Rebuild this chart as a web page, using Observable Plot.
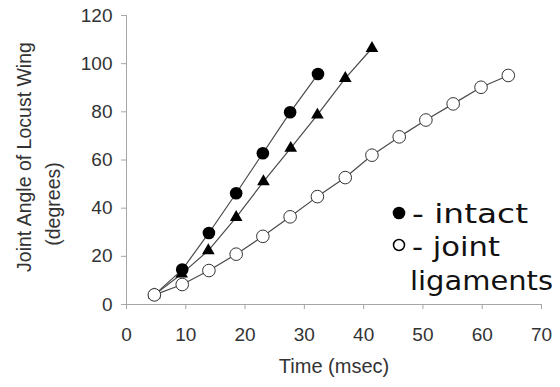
<!DOCTYPE html>
<html><head><meta charset="utf-8">
<script src="https://cdn.jsdelivr.net/npm/d3@7"></script>
<script src="https://cdn.jsdelivr.net/npm/@observablehq/plot@0.6"></script>
<style>
body{margin:0;background:#fff;}
#wrap{position:relative;width:560px;height:387px;overflow:hidden;}
#legend{position:absolute;left:0;top:0;pointer-events:none;}
</style></head><body><div id="wrap"></div>
<script>
// Data
const intactTime  = [4.7, 9.4, 13.9, 18.5, 23.0, 27.6, 32.3];
const intactAngle = [4.0, 14.5, 29.7, 46.2, 62.8, 79.8, 95.7];

const triTime  = [4.7, 9.3, 13.8, 18.5, 23.1, 27.7, 32.2, 36.9, 41.4];
const triAngle = [4.0, 12.7, 22.4, 36.2, 51.0, 64.9, 78.7, 93.9, 106.4];

const ligTime  = [4.7, 9.4, 13.9, 18.5, 23.0, 27.6, 32.2, 36.9, 41.4, 46.0, 50.5, 55.1, 59.8, 64.4];
const ligAngle = [4.0, 8.3, 14.1, 20.9, 28.3, 36.4, 44.8, 52.7, 62.0, 69.6, 76.6, 83.3, 90.2, 95.1];

const xTicks = [0, 10, 20, 30, 40, 50, 60, 70];
const yTicks = [0, 20, 40, 60, 80, 100, 120];

const xTitle = "Time (msec)";
const yTitle1 = "Joint Angle of Locust Wing";
const yTitle2 = "(degrees)";
const legendLabels = ["- intact", "- joint", "ligaments"];

const toRows = (xs, ys) => xs.map((t, i) => ({t, a: ys[i]}));
const intact = toRows(intactTime, intactAngle);
const tri = toRows(triTime, triAngle);
const lig = toRows(ligTime, ligAngle);

const lineColor = "#4a4a4a";
const axisGray = "#a6a6a6";
const textColor = "#333";

const chart = Plot.plot({
  width: 560,
  height: 387,
  marginLeft: 126,
  marginRight: 19,
  marginTop: 15,
  marginBottom: 83,
  style: {fontFamily: "'Liberation Sans', Arial, sans-serif", fontSize: "19px", color: textColor, background: "#fff"},
  x: {domain: [0, 70]},
  y: {domain: [0, 120]},
  marks: [
    Plot.ruleX([0], {stroke: axisGray, strokeWidth: 1}),
    Plot.ruleY([0], {stroke: axisGray, strokeWidth: 1}),
    Plot.axisX({ticks: xTicks, tickSize: 5, tickPadding: 18, label: null, stroke: axisGray, fill: textColor}),
    Plot.axisY({ticks: yTicks, tickSize: 5, tickPadding: 9, label: null, stroke: axisGray, fill: textColor}),
    Plot.text([xTitle], {frameAnchor: "bottom", dy: 68, fontSize: 20, fill: textColor}),
    Plot.text([yTitle1], {frameAnchor: "left", textAnchor: "middle", dx: -102, dy: -3, rotate: -90, fontSize: 19.5, fill: textColor}),
    Plot.text([yTitle2], {frameAnchor: "left", textAnchor: "middle", dx: -73, dy: 44, rotate: -90, fontSize: 19.5, fill: textColor}),
    Plot.line(tri, {x: "t", y: "a", stroke: lineColor, strokeWidth: 1.2}),
    Plot.dot(tri, {x: "t", y: "a", symbol: "triangle", r: 4.7, fill: "#000", stroke: "none"}),
    Plot.line(intact, {x: "t", y: "a", stroke: lineColor, strokeWidth: 1.2}),
    Plot.dot(intact, {x: "t", y: "a", symbol: "circle", r: 6.3, fill: "#000", stroke: "none"}),
    Plot.line(lig, {x: "t", y: "a", stroke: lineColor, strokeWidth: 1.2}),
    Plot.dot(lig, {x: "t", y: "a", symbol: "circle", r: 6.3, fill: "#fff", stroke: "#333", strokeWidth: 1})
  ]
});

const wrap = document.getElementById("wrap");
wrap.appendChild(chart);

// Legend overlay
const lg = d3.select(wrap).append("svg")
  .attr("id", "legend").attr("width", 560).attr("height", 387);
lg.append("circle").attr("cx", 399).attr("cy", 213).attr("r", 6.3).attr("fill", "#000");
lg.append("circle").attr("cx", 399).attr("cy", 245).attr("r", 5.5).attr("fill", "#fff").attr("stroke", "#000").attr("stroke-width", 1.5);
const lt = lg.append("g").attr("font-family", "'DejaVu Sans', sans-serif").attr("font-size", 27).attr("fill", "#111");
lt.append("text").attr("x", 412).attr("y", 223).attr("textLength", 116).attr("lengthAdjust", "spacingAndGlyphs").text(legendLabels[0]);
lt.append("text").attr("x", 412).attr("y", 256).attr("textLength", 88).attr("lengthAdjust", "spacingAndGlyphs").text(legendLabels[1]);
lt.append("text").attr("x", 410).attr("y", 290).attr("textLength", 143).attr("lengthAdjust", "spacingAndGlyphs").text(legendLabels[2]);
</script>
</body></html>
